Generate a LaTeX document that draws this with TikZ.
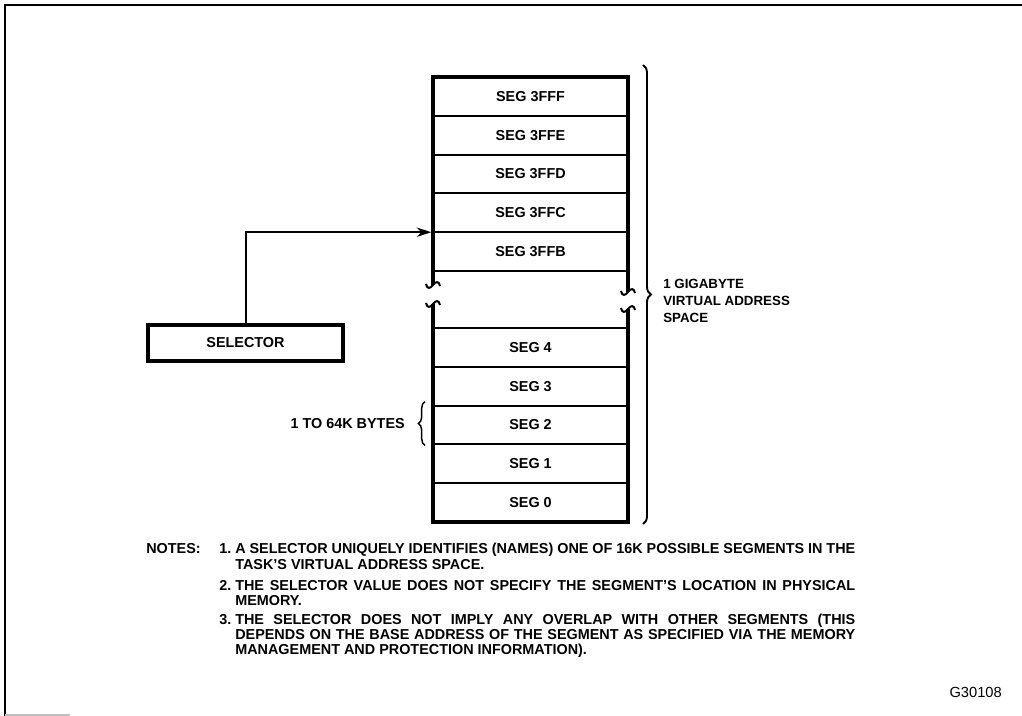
\documentclass[tikz,border=0pt]{standalone}
\usepackage{fontspec}
\setmainfont{Liberation Sans}
\usetikzlibrary{positioning,calc,arrows.meta,decorations.pathreplacing}

\tikzset{
  seg/.style={draw, line width=1.4pt, outer sep=0pt, inner sep=0pt,
    minimum width=146.25pt, minimum height=29.1pt,
    font=\fontsize{10.8}{12}\selectfont\bfseries},
  border/.style={line width=3.4pt},
  brkline/.style={line width=1.5pt},
  conn/.style={line width=1.5pt},
  lbl/.style={inner sep=0pt, font=\fontsize{10.8}{12}\selectfont\bfseries},
  sidelbl/.style={inner sep=0pt, align=left, font=\fontsize{10}{12.6}\selectfont\bfseries},
  note/.style={inner sep=0pt, text width=477pt, align=justify,
    font=\fontsize{10.8}{11.5}\selectfont\bfseries},
  notehead/.style={inner sep=0pt, font=\fontsize{10.8}{11.5}\selectfont\bfseries}
}

% break mark on the column border
\newcommand\brk[1]{\draw[brkline] (#1) ++(-7,-1) .. controls +(1,5) and +(-3,4) .. (#1)
  .. controls +(3,-4) and +(-1,-5) .. ++(7,1);}
% note with hanging number
\newcommand\notetext[2]{\setbox0\hbox{#1\ }\hangindent\wd0\hangafter1\noindent\strut\box0 #2\par}

\begin{document}
\begin{tikzpicture}[x=0.75pt,y=-0.75pt]
\useasboundingbox (0,0) rectangle (1022,716);

% frame
\draw[line width=2.2pt] (5,716) -- (5,5) -- (1022,5);
\draw[gray!50, line width=0.8pt] (5,715) -- (70,715);

% upper segments
\node[seg] (seg3fff) at (530.5,96.4) {SEG 3FFF};
\node[seg, below=0pt of seg3fff] (seg3ffe) {SEG 3FFE};
\node[seg, below=0pt of seg3ffe] (seg3ffd) {SEG 3FFD};
\node[seg, below=0pt of seg3ffd] (seg3ffc) {SEG 3FFC};
\node[seg, below=0pt of seg3ffc] (seg3ffb) {SEG 3FFB};

% lower segments
\node[seg, anchor=north] (seg4) at (530.5,328) {SEG 4};
\node[seg, below=0pt of seg4] (seg3) {SEG 3};
\node[seg, below=0pt of seg3] (seg2) {SEG 2};
\node[seg, below=0pt of seg2] (seg1) {SEG 1};
\node[seg, below=0pt of seg1] (seg0) {SEG 0};

% border with breaks
\coordinate (brkul) at ($(seg3ffb.south west)+(0,14)$);
\coordinate (brkur) at ($(seg3ffb.south east)+(0,21)$);
\coordinate (brkll) at ($(seg4.north west)+(0,-24)$);
\coordinate (brklr) at ($(seg4.north east)+(0,-19)$);
\draw[border] (brkul) -- (seg3fff.north west) -- (seg3fff.north east) -- (brkur);
\draw[border] (brkll) -- (seg0.south west) -- (seg0.south east) -- (brklr);
\brk{brkul}
\brk{brkur}
\brk{brkll}
\brk{brklr}

% selector
\node[lbl, draw, line width=3pt, minimum width=146.25pt, minimum height=27pt] (selector) at (245.5,343) {SELECTOR};
\draw[conn, -{Stealth[length=11pt,width=7pt]}, shorten >=1.2pt] (selector.north) |- (seg3ffb.north west);

% address space brace
\draw[decorate, decoration={brace, amplitude=6pt}, line width=1.4pt]
  ($(seg3fff.north east)+(15,-12)$) -- ($(seg0.south east)+(15,2)$);
\node[sidelbl, anchor=west] (vaspace) at (663,301) {1 GIGABYTE\\VIRTUAL ADDRESS\\SPACE};

% segment size brace
\draw[decorate, decoration={brace, amplitude=5pt}, line width=1.1pt]
  ($(seg2.south west)+(-8,1)$) -- ($(seg2.north west)+(-8,-4)$);
\node[lbl, anchor=east] (segsize) at ($(seg2.west)+(-28,-1)$) {1 TO 64K BYTES};

% notes
\node[notehead, anchor=base west] (notes) at (146,554) {\strut NOTES:};
\node[note, anchor=base west] (note1) at (219,554) {\notetext{1.}{A SELECTOR UNIQUELY IDENTIFIES (NAMES) ONE OF 16K POSSIBLE SEGMENTS IN THE\linebreak TASK'S VIRTUAL ADDRESS SPACE.}};
\node[note, anchor=base west] (note2) at (219,590) {\notetext{2.}{THE SELECTOR VALUE DOES NOT SPECIFY THE SEGMENT'S LOCATION IN PHYSICAL\linebreak MEMORY.}};
\node[note, anchor=base west] (note3) at (219,624) {\notetext{3.}{THE SELECTOR DOES NOT IMPLY ANY OVERLAP WITH OTHER SEGMENTS (THIS\linebreak DEPENDS ON THE BASE ADDRESS OF THE SEGMENT AS SPECIFIED VIA THE MEMORY\linebreak MANAGEMENT AND PROTECTION INFORMATION).}};

\node[anchor=east, inner sep=0pt, font=\fontsize{11}{13}\selectfont] (figno) at (1002,692) {G30108};
\end{tikzpicture}
\end{document}
